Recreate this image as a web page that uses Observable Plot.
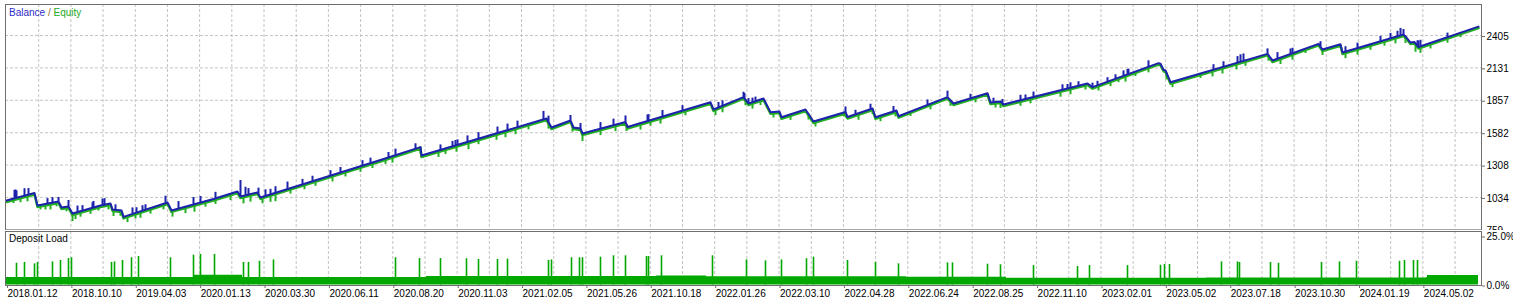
<!DOCTYPE html>
<html><head><meta charset="utf-8">
<script src="https://cdn.jsdelivr.net/npm/d3@7"></script>
<script src="https://cdn.jsdelivr.net/npm/@observablehq/plot@0.6"></script>
<style>
body{margin:0;background:#fff;}
#wrap{position:relative;width:1513px;height:300px;overflow:hidden;background:#fff;font-family:"Liberation Sans",Arial,sans-serif;}
#top,#bottom{position:absolute;left:0;}
#top{top:0;} #bottom{top:230px;}
.lbl{position:absolute;font-size:10px;line-height:10px;white-space:pre;}
</style></head>
<body>
<div id="wrap">
<div id="top"></div>
<div id="bottom"></div>
<div class="lbl" style="left:9px;top:7.5px"><span style="color:#2b2bc8">Balance</span><span style="color:#8a6d3b"> / </span><span style="color:#22aa22">Equity</span></div>
<div class="lbl" style="left:9px;top:234px;color:#000">Deposit Load</div>
</div>
<script>
// ---- data ----
const xTickLabels = ["2018.01.12","2018.10.10","2019.04.03","2020.01.13","2020.03.30","2020.06.11","2020.08.20","2020.11.03","2021.02.05","2021.05.26","2021.10.18","2022.01.26","2022.03.10","2022.04.28","2022.06.24","2022.08.25","2022.11.10","2023.02.01","2023.05.02","2023.07.18","2023.10.30","2024.01.19","2024.05.02"];
const yTickValues = [759,1034,1308,1582,1857,2131,2405];
const loadTickValues = [0,25];

const balanceDeal = [0,28,31,52,55,62,66,94,104,106,115,117,161,165,207,231,234,251,254,374,414,415,540,545,564,567,574,576,619,621,704,707,737,742,757,764,773,775,799,807,839,841,866,869,890,892,941,947,981,984,994,997,1081,1086,1152,1154,1157,1159,1164,1261,1266,1312,1316,1334,1336,1397,1400,1404,1408,1412,1472];
const balanceValue = [1008,1072,966,1000,949,957,898,966,983,932,924,869,991,924,1021,1084,1042,1076,1034,1351,1460,1389,1702,1626,1686,1626,1618,1576,1673,1631,1840,1779,1883,1830,1872,1756,1762,1713,1779,1677,1758,1715,1787,1713,1770,1722,1883,1830,1917,1838,1847,1821,1999,1968,2171,2166,2115,2109,2010,2250,2194,2335,2287,2331,2261,2414,2388,2346,2350,2308,2481];

// balance spikes (up): deal, size
const blueSpikeDeal = [8,9,10,18,22,41,46,52,62,71,76,86,87,96,98,109,126,130,136,139,159,172,187,194,209,234,239,242,252,259,264,269,281,296,306,324,334,356,364,382,389,409,434,446,449,451,461,472,491,501,511,537,542,564,574,594,607,619,641,642,656,676,712,716,737,738,742,746,749,839,849,864,887,921,941,964,987,996,1014,1019,1027,1056,1061,1064,1072,1086,1091,1101,1109,1117,1121,1122,1142,1207,1217,1231,1234,1237,1261,1271,1284,1286,1314,1339,1351,1374,1384,1391,1394,1397,1411,1412,1414,1441];
const blueSpikeSize = [68,68,59,59,51,42,42,34,51,51,42,42,51,51,51,42,51,42,42,42,59,59,59,51,51,135,68,51,51,51,42,51,59,42,42,42,42,42,42,42,51,42,42,42,42,42,51,51,51,51,51,68,51,42,42,51,51,51,51,51,51,42,42,42,42,42,42,34,34,42,34,42,42,42,51,34,34,34,42,34,42,42,34,42,34,34,34,34,34,42,42,42,51,42,42,51,59,59,42,51,42,42,42,42,42,42,42,42,59,42,42,51,51,34];
// equity spikes (down): deal, depth
const greenSpikeDeal = [7,14,21,34,39,44,50,60,66,69,74,84,92,102,107,114,121,129,134,144,157,166,179,188,199,209,224,237,244,256,264,269,284,298,309,326,339,354,366,379,386,414,432,439,450,462,472,490,499,509,522,542,566,576,594,609,620,634,644,654,679,709,716,739,746,754,767,784,802,809,839,852,866,874,889,904,924,944,969,989,994,1014,1024,1054,1064,1079,1092,1104,1112,1119,1129,1142,1160,1166,1194,1206,1216,1230,1239,1262,1274,1286,1299,1316,1339,1351,1364,1378,1389,1399,1409,1414,1424,1441,1454];
const greenSpikeDepth = [42,51,59,42,51,59,42,42,68,59,51,51,42,51,59,51,59,51,59,51,51,59,59,68,51,51,59,68,68,59,68,76,51,51,51,59,51,51,51,51,59,59,59,51,59,68,51,59,59,59,51,59,59,68,59,59,59,59,51,59,51,59,59,51,59,51,51,51,51,51,51,59,51,51,51,42,51,51,51,51,59,51,51,59,59,51,51,51,42,59,42,51,59,51,42,59,59,59,51,51,59,59,42,51,59,59,51,51,59,59,76,59,51,51,42];

// deposit load (%)
const loadBaseDeal = [0,185,187,232,236,400,420,650,700,900,1000,1200,1420,1421,1472];
const loadBasePct = [3.8,3.8,5.0,5.0,3.8,3.8,4.4,4.6,4.2,4.0,3.4,3.6,3.8,4.8,4.8];
const loadSpikeDeal = [10,18,28,31,46,54,62,65,105,108,116,125,132,164,187,194,208,237,242,253,267,389,413,434,460,472,491,501,542,545,565,573,576,594,607,619,640,642,655,706,740,759,775,800,807,841,869,892,941,946,981,994,1027,1071,1083,1121,1154,1158,1163,1215,1231,1233,1264,1272,1315,1333,1350,1393,1398,1407,1411];
const loadSpikePct = [11.1,11.5,10.8,11.5,11.8,12.5,13.5,13.9,11.5,11.8,12.5,13.9,14.5,13.9,15.2,15.6,15.6,11.5,11.5,12.1,12.8,13.9,13.5,13.5,13.4,13.0,13.0,13.2,12.5,12.8,13.9,13.9,13.9,14.2,14.9,14.9,14.5,14.5,14.9,14.9,12.8,12.3,12.8,13.4,14.2,12.5,11.5,10.8,11.3,11.3,10.6,10.3,9.9,9.4,9.9,9.9,10.1,10.5,10.5,11.8,11.8,11.5,11.5,11.1,11.5,11.8,12.1,12.1,12.5,12.5,12.5];

// ---- build ----
const blue = "#1f22aa", green = "#22b022", loadGreen = "#00a800", gridColor = "#c4c4c4", frameColor = "#6e6e6e";
const W = 1513;
const xDomain = [-1, 1475];
const gridStep = 32.19;
const gridDeals = d3.range(1, 46).map(k => k * gridStep);
const xTickDeals = xTickLabels.map((_, i) => i * 2 * gridStep);

const balanceRows = balanceDeal.map((d, i) => ({deal: d, value: balanceValue[i]}));
function balanceAt(d) {
  let i = d3.bisectRight(balanceDeal, d) - 1;
  i = Math.max(0, Math.min(balanceDeal.length - 2, i));
  const t = (d - balanceDeal[i]) / (balanceDeal[i + 1] - balanceDeal[i]);
  return balanceValue[i] + t * (balanceValue[i + 1] - balanceValue[i]);
}
const blueRows = blueSpikeDeal.map((d, i) => ({deal: d, base: balanceAt(d), tip: balanceAt(d) + blueSpikeSize[i]}));
const greenRows = greenSpikeDeal.map((d, i) => ({deal: d, base: balanceAt(d), tip: balanceAt(d) - greenSpikeDepth[i]}));
const loadBaseRows = loadBaseDeal.map((d, i) => ({deal: d, pct: loadBasePct[i]}));
const loadSpikeRows = loadSpikeDeal.map((d, i) => ({deal: d, pct: loadSpikePct[i]}));

const style = {fontFamily: "'Liberation Sans', Arial, sans-serif", fontSize: "10px", background: "white", color: "black"};

const topPlot = Plot.plot({
  width: W, height: 230,
  marginLeft: 5, marginRight: 32, marginTop: 4, marginBottom: 0.6,
  x: {domain: xDomain, axis: null},
  y: {domain: [759, 2668], axis: null},
  style,
  marks: [
    Plot.ruleY(yTickValues.slice(1), {stroke: gridColor, strokeDasharray: "3,2"}),
    Plot.ruleX(gridDeals, {stroke: gridColor, strokeDasharray: "3,2"}),
    Plot.line(balanceRows, {x: "deal", y: "value", stroke: green, strokeWidth: 2.5, dy: 1.5}),
    Plot.ruleX(greenRows, {x: "deal", y1: "base", y2: "tip", stroke: green, strokeWidth: 2}),
    Plot.line(balanceRows, {x: "deal", y: "value", stroke: blue, strokeWidth: 2}),
    Plot.ruleX(blueRows, {x: "deal", y1: "base", y2: "tip", stroke: blue, strokeWidth: 2}),
    Plot.frame({stroke: frameColor}),
    Plot.axisY(yTickValues, {anchor: "right", label: null, tickSize: 3, tickPadding: 2, tickFormat: d => String(d), dy: 1, stroke: frameColor, fill: "black"})
  ]
});
document.getElementById("top").appendChild(topPlot);

const bottomPlot = Plot.plot({
  width: W, height: 70,
  marginLeft: 5, marginRight: 32, marginTop: 1, marginBottom: 15,
  x: {domain: xDomain, axis: null},
  y: {domain: [-0.255, 27.3], axis: null},
  style,
  marks: [
    Plot.ruleX(gridDeals, {stroke: gridColor, strokeDasharray: "3,2"}),
    Plot.areaY(loadBaseRows, {x: "deal", y: "pct", fill: loadGreen, curve: "step-after"}),
    Plot.ruleX(loadSpikeRows, {x: "deal", y1: 0, y2: "pct", stroke: loadGreen, strokeWidth: 1.6}),
    Plot.frame({stroke: frameColor}),
    Plot.axisY(loadTickValues, {anchor: "right", label: null, tickSize: 3, tickPadding: 2, tickFormat: d => d.toFixed(1) + "%", dy: 1, stroke: frameColor, fill: "black"}),
    Plot.axisX(xTickDeals, {anchor: "bottom", label: null, tickSize: 3, tickPadding: 1, tickFormat: d => xTickLabels[xTickDeals.indexOf(d)], textAnchor: "start", dx: 1, stroke: frameColor, fill: "black"})
  ]
});
document.getElementById("bottom").appendChild(bottomPlot);
</script>
</body></html>
